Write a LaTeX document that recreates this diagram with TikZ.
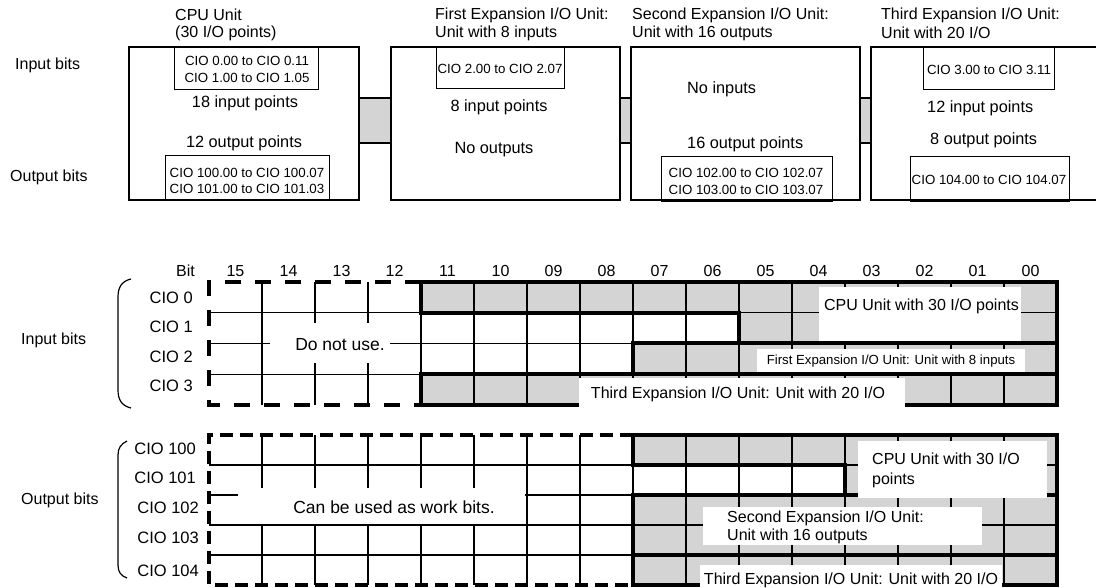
\documentclass[tikz,border=0pt]{standalone}
\usepackage{fontspec}
\setmainfont{Liberation Sans}
\definecolor{cellgray}{RGB}{212,212,212}
\begin{document}
\begin{tikzpicture}[x=1pt,y=-1pt,
  thinline/.style={line width=1.1pt},
  thickline/.style={line width=4pt},
  unitbox/.style={line width=2.2pt},
  innerbox/.style={line width=1pt},
  dashin/.style={line width=4pt,dash pattern=on 16pt off 14pt},
  dashout/.style={line width=4pt,dash pattern=on 13pt off 7pt},
  ttl/.style={inner sep=0pt,anchor=west,font=\fontsize{16}{19}\selectfont},
  midtxt/.style={inner sep=0pt,font=\fontsize{16.3}{19}\selectfont},
  smalltxt/.style={inner sep=0pt,align=center,font=\fontsize{13.3}{16.5}\selectfont},
  rowlbl/.style={inner sep=0pt,anchor=east,font=\fontsize{16.5}{19}\selectfont},
  collbl/.style={inner sep=0pt,font=\fontsize{16}{19}\selectfont},
  gridtxt/.style={inner sep=0pt,font=\fontsize{16}{20}\selectfont},
  bigtxt/.style={inner sep=0pt,font=\fontsize{17.5}{20}\selectfont},
  whitebox/.style={fill=white,draw=none}
]
\useasboundingbox (0,0) rectangle (1096,588);

% ---------------- top section ----------------
\node[ttl] (inTop) at (15,65) {Input bits};
\node[ttl] (outTop) at (10,177) {Output bits};

\node[ttl] (cpuT1) at (175,15) {CPU Unit};
\node[ttl] (cpuT2) at (175,33) {(30 I/O points)};
\node[ttl] (e1T1) at (435,15) {First Expansion I/O Unit:};
\node[ttl] (e1T2) at (435,33) {Unit with 8 inputs};
\node[ttl] (e2T1) at (632,15) {Second Expansion I/O Unit:};
\node[ttl] (e2T2) at (632,33) {Unit with 16 outputs};
\node[ttl] (e3T1) at (881,15) {Third Expansion I/O Unit:};
\node[ttl] (e3T2) at (881,33) {Unit with 20 I/O};

% connectors (gray blocks)
\filldraw[fill=cellgray,thinline] (359,98) rectangle (391,143);
\filldraw[fill=cellgray,thinline] (620,98) rectangle (631,143);
\filldraw[fill=cellgray,thinline] (860,98) rectangle (871,143);

% unit boxes
\draw[unitbox] (129,47) rectangle (359,200);
\draw[unitbox] (391,47) rectangle (620,200);
\draw[unitbox] (631,47) rectangle (860,200);
\draw[unitbox] (1100,47) -- (871,47) -- (871,200) -- (1100,200);

% CPU unit contents
\draw[innerbox] (174,47) rectangle (318,90);
\node[smalltxt] (cpuIn) at (247,69.5) {CIO 0.00 to CIO 0.11\\CIO 1.00 to CIO 1.05};
\node[midtxt] (cpuInP) at (245,103) {18 input points};
\node[midtxt] (cpuOutP) at (244,143) {12 output points};
\draw[innerbox] (165,156) rectangle (329,200);
\node[smalltxt] (cpuOut) at (247,181) {CIO 100.00 to CIO 100.07\\CIO 101.00 to CIO 101.03};

% First expansion contents
\draw[innerbox] (436,47) rectangle (564,89);
\node[smalltxt] (e1In) at (500,69) {CIO 2.00 to CIO 2.07};
\node[midtxt] (e1InP) at (499,107) {8 input points};
\node[midtxt] (e1OutP) at (494,150) {No outputs};

% Second expansion contents
\node[midtxt,anchor=west] (e2InP) at (687,89) {No inputs};
\node[midtxt,anchor=west] (e2OutP) at (687,144) {16 output points};
\draw[innerbox] (661,157) rectangle (832,202);
\node[smalltxt] (e2Out) at (746,181.5) {CIO 102.00 to CIO 102.07\\CIO 103.00 to CIO 103.07};

% Third expansion contents
\draw[innerbox] (923,47) rectangle (1054,90);
\node[smalltxt] (e3In) at (989,70) {CIO 3.00 to CIO 3.11};
\node[midtxt,anchor=west] (e3InP) at (927,108) {12 input points};
\node[midtxt,anchor=west] (e3OutP) at (930,140) {8 output points};
\draw[innerbox] (910,157) rectangle (1069,202);
\node[smalltxt] (e3Out) at (989,180) {CIO 104.00 to CIO 104.07};

% ---------------- bit grids ----------------
\node[collbl,anchor=east] (bitLbl) at (195,271) {Bit};
\foreach \k [count=\i from 0] in {15,14,13,12,11,10,09,08,07,06,05,04,03,02,01,00}
  \node[collbl] (col\k) at ({209+53*\i+26.5},271) {\k};

% left labels and braces
\node[ttl] (inBits) at (21,340) {Input bits};
\node[ttl] (outBits) at (21,500) {Output bits};
\draw[line width=1.2pt] (131,279) .. controls (122,281) and (118,287) .. (118,297) -- (118,390) .. controls (118,400) and (122,406) .. (131,408);
\draw[line width=1.2pt] (127,441) .. controls (121,444) and (118,448) .. (118,455) -- (118,565) .. controls (118,572) and (121,576) .. (127,578);

\node[rowlbl] (r0) at (193,298) {CIO 0};
\node[rowlbl] (r1) at (193,327) {CIO 1};
\node[rowlbl] (r2) at (193,357) {CIO 2};
\node[rowlbl] (r3) at (193,386) {CIO 3};
\node[rowlbl] (r100) at (196,449) {CIO 100};
\node[rowlbl] (r101) at (196,478) {CIO 101};
\node[rowlbl] (r102) at (199,508) {CIO 102};
\node[rowlbl] (r103) at (199,538) {CIO 103};
\node[rowlbl] (r104) at (199,571) {CIO 104};

% gray fills
\fill[cellgray] (421,282) -- (1057,282) -- (1057,343.5) -- (739,343.5) -- (739,312.75) -- (421,312.75) -- cycle;
\fill[cellgray] (633,343.5) rectangle (1057,374.25);
\fill[cellgray] (421,374.25) rectangle (1057,405);
\fill[cellgray] (633,435) -- (1057,435) -- (1057,495) -- (845,495) -- (845,465) -- (633,465) -- cycle;
\fill[cellgray] (633,495) rectangle (1057,585);

% thin grid lines
\foreach \y in {312.75,343.5,374.25}
  \draw[thinline] (209,\y) -- (1057,\y);
\foreach \i in {1,...,15}
  \draw[thinline] ({209+53*\i},282) -- ({209+53*\i},405);
\foreach \y in {465,495,525,555}
  \draw[thinline] (209,\y) -- (1057,\y);
\foreach \i in {1,...,15}
  \draw[thinline] ({209+53*\i},435) -- ({209+53*\i},585);

% thick outlines of the unit areas
\draw[thickline] (421,282) -- (1057,282) -- (1057,343.5) -- (739,343.5) -- (739,312.75) -- (421,312.75) -- cycle;
\draw[thickline] (633,343.5) rectangle (1057,374.25);
\draw[thickline] (421,374.25) rectangle (1057,405);
\draw[thickline] (633,435) -- (1057,435) -- (1057,495) -- (845,495) -- (845,465) -- (633,465) -- cycle;
\draw[thickline] (633,495) rectangle (1057,585);
\draw[thickline] (633,555) -- (1057,555);

% dashed outlines of unused areas
\draw[dashin] (421,282) -- (209,282) -- (209,405) -- (421,405);
\draw[dashout] (633,435) -- (209,435) -- (209,585) -- (633,585);

% labels inside the grids
\fill[whitebox] (270,323) rectangle (390,363);
\node[bigtxt] (noUse) at (340,345) {Do not use.};
\fill[whitebox] (238,488) rectangle (525,524);
\node[bigtxt] (workBits) at (394,507) {Can be used as work bits.};

\fill[whitebox] (819,287) rectangle (1021,341.5);
\node[gridtxt] (inCpu) at (921.5,306) {CPU Unit with 30 I/O points};
\fill[whitebox] (757,349) rectangle (1025,372);
\node[inner sep=0pt,font=\fontsize{13.2}{16}\selectfont] (inE1) at (891,361.5) {First Expansion I/O Unit: Unit with 8 inputs};
\fill[whitebox] (579,378) rectangle (905,407);
\node[gridtxt] (inE3) at (738,394) {Third Expansion I/O Unit: Unit with 20 I/O};

\fill[whitebox] (858,441) rectangle (1046.5,498);
\node[gridtxt,align=left,anchor=west] (outCpu) at (872,470) {CPU Unit with 30 I/O\\points};
\fill[whitebox] (703,507) rectangle (981.5,545);
\node[inner sep=0pt,font=\fontsize{16}{18.4}\selectfont,align=left,anchor=west] (outE2) at (727,527.5) {Second Expansion I/O Unit:\\Unit with 16 outputs};
\fill[whitebox] (700,565) rectangle (1002,588);
\node[gridtxt] (outE3) at (851,580) {Third Expansion I/O Unit: Unit with 20 I/O};
\end{tikzpicture}
\end{document}
